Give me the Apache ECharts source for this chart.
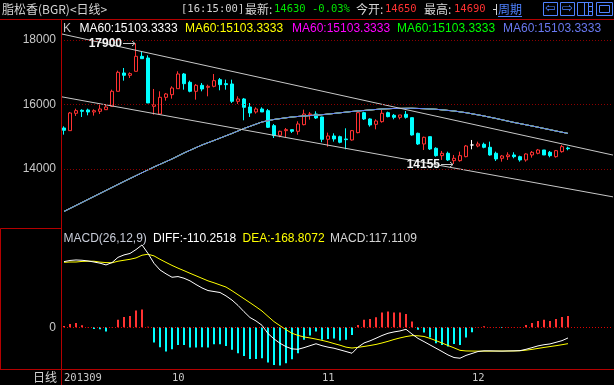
<!DOCTYPE html>
<html><head><meta charset="utf-8"><title>脂松香</title>
<script src="https://cdn.jsdelivr.net/npm/echarts@6.0.0/dist/echarts.min.js"></script>
<style>html,body{margin:0;padding:0;background:#000;overflow:hidden}#chart{width:614px;height:385px}</style>
</head><body><div id="chart"></div><script>
// ---------------- data ----------------
const slotCount = 92;                       // category slots on the time axis
const monthTicks = {0:'201309', 18:'10', 43:'11', 68:'12'};
const priceTicks = [14000, 16000, 18000];
// [open, close, low, high]
const ohlc = [
 [15272,15200,15065,15324],[15189,15737,15189,15768],[15727,15809,15644,15871],[15820,15789,15613,15851],
 [15830,15768,15665,15871],[15768,15809,15655,15851],[15789,15861,15706,15995],[15840,15923,15830,15995],
 [15944,16409,15923,16460],[16409,16998,16409,17049],[16977,16905,16739,17132],[16905,16957,16822,16998],
 [17029,17494,17029,17900],[17494,17421,17411,17628],[17442,16047,16047,17525],[15944,15995,15685,16481],
 [15706,16223,15685,16409],[16223,16326,16119,16357],[16305,16512,16181,16564],[16491,16946,16491,17029],
 [16946,16646,16460,16977],[16688,16409,16378,16739],[16409,16595,16150,16636],[16595,16481,16409,16667],
 [16533,16564,16254,16615],[16564,16739,16533,16946],[16770,16615,16440,16822],[16646,16615,16460,16770],
 [16636,16099,16047,16770],[16099,16171,16016,16254],[16171,15913,15510,16202],[15923,15737,15613,16047],
 [15768,15861,15716,15913],[15861,15768,15768,15913],[15809,15293,15272,15861],[15344,15034,14962,15396],
 [15045,15169,14983,15189],[15189,15220,14983,15272],[15220,15169,15117,15220],[15169,15396,15065,15479],
 [15375,15706,15355,15840],[15685,15706,15530,15768],[15706,15582,15551,15789],[15613,14920,14830,15623],
 [14921,15024,14693,15127],[15024,14931,14848,15107],[15003,14828,14797,15034],[14931,14910,14611,15262],
 [14900,15189,14879,15210],[15127,15747,15107,15778],[15747,15551,15520,15778],[15551,15365,15313,15572],
 [15386,15489,15231,15541],[15468,15727,15437,15830],[15747,15623,15603,15778],[15665,15603,15541,15706],
 [15603,15675,15541,15675],[15696,15603,15561,15799],[15592,15055,15034,15592],[15107,14776,14745,15127],
 [14776,14983,14590,15003],[15003,14621,14590,15003],[14642,14414,14383,14673],[14414,14487,14280,14559],
 [14487,14280,14249,14538],[14259,14332,14155,14435],[14259,14414,14228,14538],[14383,14714,14363,14745],
 [14745,14745,14611,14900],[14714,14776,14673,14848],[14766,14673,14642,14817],[14673,14435,14414,14848],
 [14487,14311,14249,14538],[14332,14404,14228,14435],[14383,14435,14280,14518],[14435,14383,14332,14518],
 [14383,14280,14228,14414],[14280,14466,14228,14487],[14435,14518,14352,14559],[14487,14590,14456,14621],
 [14590,14435,14435,14590],[14518,14414,14363,14559],[14383,14569,14352,14590],[14538,14693,14507,14745],
 [14650,14630,14580,14690]
];
const dojiIndex = 68;
const ma60 = [
 12684,12777,12870,12963,13056,13149,13242,13335,13428,13521,13614,13704,13794,13884,13974,14063,
 14146,14229,14311,14404,14497,14580,14663,14745,14815,14885,14957,15030,15102,15180,15257,15324,
 15391,15458,15497,15536,15562,15588,15613,15629,15644,15657,15670,15684,15703,15722,15743,15763,
 15784,15800,15815,15830,15846,15861,15869,15877,15879,15881,15883,15877,15870,15861,15852,15834,
 15816,15799,15772,15746,15712,15678,15644,15605,15567,15526,15484,15443,15407,15370,15334,15296,
 15257,15218,15179,15141,15103.3333
];
const diff = [
 676,688,693,690,683,672,660,642,666,720,745,760,800,848,760,659,590,550,515,522,505,478,440,405,
 378,368,358,323,280,225,160,100,65,20,-65,-120,-165,-200,-223,-227,-210,-190,-170,-190,-205,-216,
 -233,-250,-268,-205,-162,-140,-113,-85,-62,-48,-38,-21,-70,-115,-148,-182,-216,-250,-285,-312,
 -319,-290,-270,-250,-243,-243,-245,-246,-244,-243,-241,-227,-210,-192,-180,-172,-155,-138,-110.2518
];
const dea = [
 669,672,672,678,680,680,671,666,664,680,690,700,714,742,752,735,700,668,637,609,583,556,530,504,
 478,458,436,414,376,335,294,253,211,167,112,58,16,-25,-62,-84,-100,-110,-122,-135,-150,-168,
 -185,-205,-214,-207,-198,-188,-177,-162,-145,-126,-110,-96,-86,-88,-95,-115,-138,-162,-188,-212,
 -238,-244,-245,-246,-246,-246,-245,-245,-245,-244,-242,-236,-228,-218,-208,-199,-190,-180,-168.8072
];
const macd = [
 14,34,45,21,2,-17,-21,-45,3,76,106,117,172,182,5,-158,-206,-251,-227,-182,-182,-209,-209,-206,
 -209,-175,-175,-192,-233,-268,-295,-326,-326,-319,-364,-388,-395,-371,-330,-268,-130,-86,-45,-130,-120,-116,
 -137,-130,-79,24,76,86,103,151,161,151,151,137,58,-27,-55,-106,-165,-182,-199,-172,
 -182,-106,-51,2,10,3,-2,-7,3,2,3,24,45,65,76,65,86,106,117.1109
];
const upperTrend = [[-0.5,18192],[91.5,14432]];
const lowerTrend = [[-0.5,16242],[91.5,13136]];
const maColors = ['#ffffff','#ffff00','#ff00ff','#00ff00','#7080ff'];

// ---------------- styles ----------------
const RED = '#b40000', UP = '#ff3232', DOWN = '#00ffff', GRAY = '#c8c8c8';
const F_SANS = '12px "Liberation Sans", Arial, sans-serif';
const F_CJK = '12px "Noto Sans CJK SC", sans-serif';
const F_MONO = '10.5px "DejaVu Sans Mono", monospace';

const categories = Array.from({length: slotCount}, (_, i) => String(i));
const chart = echarts.init(document.getElementById('chart'), null, {renderer: 'canvas'});

const candleData = ohlc.map((d, i) => i === dojiIndex
  ? {value: d, itemStyle: {color: '#ffffff', color0: '#ffffff', borderColor: '#ffffff', borderColor0: '#ffffff'}}
  : d);

const maSeries = maColors.map(c => ({
  type: 'line', xAxisIndex: 0, yAxisIndex: 0, data: ma60, showSymbol: false, symbol: 'none',
  lineStyle: {color: c, width: 1}, silent: true, z: 3
}));

chart.setOption({
  backgroundColor: '#000000',
  animation: false,
  grid: [
    {left: 61, right: 1, top: 20, bottom: 151.5},
    {left: 61, right: 1, top: 229, bottom: 16}
  ],
  xAxis: [
    {type: 'category', gridIndex: 0, data: categories, show: false},
    {type: 'value', gridIndex: 0, min: -0.5, max: slotCount - 0.5, show: false},
    {type: 'category', gridIndex: 1, data: categories,
     axisLine: {show: false}, axisTick: {show: false}, splitLine: {show: false},
     axisLabel: {
       interval: (idx) => monthTicks[idx] !== undefined,
       formatter: (v, idx) => monthTicks[idx] || '',
       color: '#c8c8c8', fontFamily: 'DejaVu Sans Mono', fontSize: 10.5, align: 'left', margin: 4
     }}
  ],
  yAxis: [
    {type: 'value', gridIndex: 0, min: 12000, max: 18620, interval: 2000,
     axisLine: {show: false}, axisTick: {show: false}, splitLine: {show: false},
     axisLabel: {formatter: v => priceTicks.includes(v) ? String(v) : '', color: '#c8c8c8',
                 fontFamily: 'Liberation Sans', fontSize: 12, margin: 5, showMaxLabel: false}},
    {type: 'value', gridIndex: 1, min: -430, max: 1012,
     axisLine: {show: false}, axisTick: {show: false}, splitLine: {show: false},
     axisLabel: {formatter: v => v === 0 ? '0' : '', color: '#c8c8c8',
                 fontFamily: 'Liberation Sans', fontSize: 12, margin: 5}}
  ],
  series: [
    {type: 'candlestick', xAxisIndex: 0, yAxisIndex: 0, data: candleData, barWidth: 4, silent: true, z: 2,
     itemStyle: {color: 'rgba(0,0,0,0)', color0: DOWN, borderColor: UP, borderColor0: DOWN, borderWidth: 1},
     markLine: {silent: true, symbol: ['none', 'none'], label: {show: false}, animation: false,
                lineStyle: {color: '#8c0000', type: [1, 2], width: 1},
                data: priceTicks.map(v => ({yAxis: v}))}},
    ...maSeries,
    {type: 'line', xAxisIndex: 1, yAxisIndex: 0, data: upperTrend, showSymbol: false, symbol: 'none',
     lineStyle: {color: GRAY, width: 1}, silent: true, z: 4},
    {type: 'line', xAxisIndex: 1, yAxisIndex: 0, data: lowerTrend, showSymbol: false, symbol: 'none',
     lineStyle: {color: GRAY, width: 1}, silent: true, z: 4},
    {type: 'bar', xAxisIndex: 2, yAxisIndex: 1, data: macd, barWidth: 2, silent: true,
     itemStyle: {color: p => p.value >= 0 ? UP : DOWN},
     markLine: {silent: true, symbol: ['none', 'none'], label: {show: false}, animation: false,
                lineStyle: {color: '#e00000', type: [1, 2], width: 1}, data: [{yAxis: 0}]}},
    {type: 'line', xAxisIndex: 2, yAxisIndex: 1, data: diff, showSymbol: false, symbol: 'none',
     lineStyle: {color: '#ffffff', width: 1}, silent: true, z: 4},
    {type: 'line', xAxisIndex: 2, yAxisIndex: 1, data: dea, showSymbol: false, symbol: 'none',
     lineStyle: {color: '#ffff00', width: 1}, silent: true, z: 3}
  ]
});

// ---------------- decorations (text & frame) ----------------
function txt(x, y, text, fill, font, align) {
  align = align || 'left';
  return {type: 'text', silent: true, z: 20,
    style: {x: x, y: y, text: text, fill: fill, font: font,
            textAlign: align, align: align, textVerticalAlign: 'middle', verticalAlign: 'middle'}};
}
function ln(x1, y1, x2, y2, c, w) {
  return {type: 'line', silent: true, z: 20, shape: {x1: x1, y1: y1, x2: x2, y2: y2},
          style: {stroke: c, lineWidth: w || 1}};
}
function rc(x, y, w, h, c) {
  return {type: 'rect', silent: true, z: 20, shape: {x: x, y: y, width: w, height: h},
          style: {fill: 'none', stroke: c, lineWidth: 1}};
}
const BLUE = '#4f82ff', TXT = '#d4d4d4';
const els = [
  // frame
  ln(0, 19.5, 614, 19.5, RED), ln(61.5, 19.5, 61.5, 385, RED),
  rc(0.5, 228.5, 61, 141, RED), ln(0, 369.5, 614, 369.5, RED),
  // header
  txt(2, 9.5, '脂松香(BGR)<日线>', TXT, F_CJK),
  txt(181, 9.5, '[16:15:00]', TXT, F_MONO),
  txt(245, 9.5, '最新:', TXT, F_CJK),
  txt(274, 9.5, '14630', '#00e600', F_MONO),
  txt(312, 9.5, '-0.03%', '#00e600', F_MONO),
  txt(356, 9.5, '今开:', TXT, F_CJK),
  txt(385, 9.5, '14650', UP, F_MONO),
  txt(424, 9.5, '最高:', TXT, F_CJK),
  txt(454, 9.5, '14690', UP, F_MONO),
  ln(496.5, 4, 496.5, 15, TXT), ln(493, 9.5, 496, 9.5, TXT),
  txt(498, 9.5, '周期', BLUE, F_CJK), ln(498, 16.5, 522, 16.5, BLUE),
  // icons
  rc(543.5, 2.5, 14, 13, BLUE), txt(550.5, 9, '⇦', BLUE, '13px "DejaVu Sans"', 'center'),
  rc(560.5, 2.5, 14, 13, BLUE), txt(567.5, 9, '⇨', BLUE, '13px "DejaVu Sans"', 'center'),
  rc(577.5, 2.5, 15, 13, BLUE), ln(588.5, 2.5, 588.5, 15.5, BLUE), ln(584.5, 2.5, 584.5, 15.5, BLUE),
  ln(588.5, 6.5, 592.5, 6.5, BLUE), ln(588.5, 11.5, 592.5, 11.5, BLUE),
  rc(596.5, 2.5, 16, 13, BLUE), rc(599.5, 5.5, 10, 7, BLUE),
  // legend row
  txt(63, 29, 'K', '#c8c8c8', F_SANS),
  txt(79.5, 29, 'MA60:15103.3333', maColors[0], F_SANS),
  txt(185, 29, 'MA60:15103.3333', maColors[1], F_SANS),
  txt(292, 29, 'MA60:15103.3333', maColors[2], F_SANS),
  txt(397, 29, 'MA60:15103.3333', maColors[3], F_SANS),
  txt(503, 29, 'MA60:15103.3333', '#6878f0', F_SANS),
  // MACD header
  txt(63.5, 239, 'MACD(26,12,9)', '#c8ccd8', F_SANS),
  txt(153, 239, 'DIFF:-110.2518', '#ffffff', F_SANS),
  txt(242.5, 239, 'DEA:-168.8072', '#ffff00', F_SANS),
  txt(330, 239, 'MACD:117.1109', '#d4d4d4', F_SANS),
  // bottom-left
  txt(57, 377.5, '日线', TXT, F_CJK, 'right')
];

// high / low annotations placed from the data
let hi = 0, lo = 0;
ohlc.forEach((d, i) => { if (d[3] > ohlc[hi][3]) hi = i; if (d[2] < ohlc[lo][2]) lo = i; });
function annot(idx, val) {
  const p = chart.convertToPixel({xAxisIndex: 0, yAxisIndex: 0}, [idx, val]);
  const x = p[0], y = Math.round(p[1]) + 0.5;
  return [
    {type: 'text', silent: true, z: 21,
     style: {x: x - 14, y: y, text: String(val), fill: '#f4f4f4', font: 'bold 12px "Liberation Sans", Arial',
             textAlign: 'right', align: 'right', textVerticalAlign: 'middle', verticalAlign: 'middle',
             textShadowColor: '#7a7a7a', textShadowOffsetX: -1, textShadowOffsetY: -1, textShadowBlur: 0}},
    ln(x - 13, y, x - 1, y, '#c8c8c8'),
    {type: 'polyline', silent: true, z: 21, shape: {points: [[x - 4, y - 2.5], [x - 1, y], [x - 4, y + 2.5]]},
     style: {stroke: '#c8c8c8', fill: 'none', lineWidth: 1}}
  ];
}
els.push(...annot(hi, ohlc[hi][3]), ...annot(lo, ohlc[lo][2]));
chart.setOption({graphic: {elements: els}});
</script></body></html>
